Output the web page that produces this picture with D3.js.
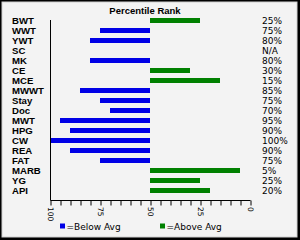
<!DOCTYPE html>
<html><head><meta charset="utf-8">
<script src="https://cdn.jsdelivr.net/npm/d3@7"></script>
<style>html,body{margin:0;padding:0;background:#000;}svg{display:block;}</style>
</head><body>
<svg id="c" width="300" height="240"></svg>
<script>
const categories = ["BWT","WWT","YWT","SC","MK","CE","MCE","MWWT","Stay","Doc","MWT","HPG","CW","REA","FAT","MARB","YG","API"];
const rankValues = [25,75,80,null,80,30,15,85,75,70,95,90,100,90,75,5,25,20];
const rankLabels = ["25%","75%","80%","N/A","80%","30%","15%","85%","75%","70%","95%","90%","100%","90%","75%","5%","25%","20%"];
const tickLabels = [100,75,50,25,0];
const legendLabels = ["=Below Avg","=Above Avg"];
const average = 50;

const svg = d3.select("#c");
svg.append("rect").attr("x",2).attr("y",2).attr("width",295).attr("height",235)
  .attr("fill","#f3f3f3").attr("stroke","#d0d0d0").attr("stroke-width",1);

const x = d3.scaleLinear().domain([100,0]).range([50,250]);
const y = d3.scaleBand().domain(categories).range([15.5,195.5]).paddingInner(0.5).paddingOuter(0.25);

const colBelow = "#0000e6", colAbove = "#008000";

svg.append("text").attr("x",145).attr("y",14).attr("text-anchor","middle")
  .attr("font-family","Liberation Sans, Arial, sans-serif").attr("font-weight","bold")
  .attr("font-size","9.5px").attr("fill","#000").text("Percentile Rank");

const data = categories.map((c,i)=>({c, v:rankValues[i], lab:rankLabels[i]}));

svg.selectAll("rect.bar").data(data.filter(d=>d.v!==null)).enter().append("rect")
  .attr("class","bar")
  .attr("x",d=>Math.min(x(d.v),x(average)))
  .attr("width",d=>Math.abs(x(d.v)-x(average)))
  .attr("y",d=>y(d.c)).attr("height",y.bandwidth())
  .attr("fill",d=>d.v>average?colBelow:colAbove);

// category labels
svg.selectAll("text.cat").data(data).enter().append("text")
  .attr("x",12).attr("y",d=>y(d.c)+y.bandwidth()/2+3.6)
  .attr("font-family","Liberation Sans, Arial, sans-serif").attr("font-weight","bold")
  .attr("font-size","9.6px").attr("fill","#000").text(d=>d.c);

// percent labels
svg.selectAll("text.pct").data(data).enter().append("text")
  .attr("x",262).attr("y",d=>y(d.c)+y.bandwidth()/2+3.4)
  .attr("font-family","DejaVu Sans, Verdana, sans-serif")
  .attr("font-size","9px").attr("fill","#000").text(d=>d.lab);

// vertical axis line
svg.append("line").attr("x1",50.5).attr("x2",50.5).attr("y1",20).attr("y2",200.5)
  .attr("stroke","#000").attr("stroke-width",1);

// bottom axis
const axis = d3.axisBottom(x).tickValues(d3.range(0,101,5)).tickSize(5).tickFormat("");
const gA = svg.append("g").attr("transform","translate(0.5,200.5)").call(axis);
gA.select(".domain").attr("d","M50,0H250").attr("stroke","#000");
gA.selectAll(".tick line").attr("stroke","#000");

svg.selectAll("text.tl").data(tickLabels).enter().append("text")
  .attr("transform",d=>`translate(${x(d)},207) rotate(90)`)
  .attr("dominant-baseline","middle")
  .attr("font-family","DejaVu Sans, Verdana, sans-serif")
  .attr("font-size","7.5px").attr("fill","#000").text(d=>d);

// legend
const legX = [60,160], legC = [colBelow,colAbove];
legendLabels.forEach((t,i)=>{
  svg.append("rect").attr("x",legX[i]).attr("y",223.5).attr("width",5).attr("height",5).attr("fill",legC[i]);
  svg.append("text").attr("x",legX[i]+6.5).attr("y",230)
    .attr("font-family","DejaVu Sans, Verdana, sans-serif")
    .attr("font-size","9px").attr("fill","#000").text(t);
});
</script>
</body></html>
